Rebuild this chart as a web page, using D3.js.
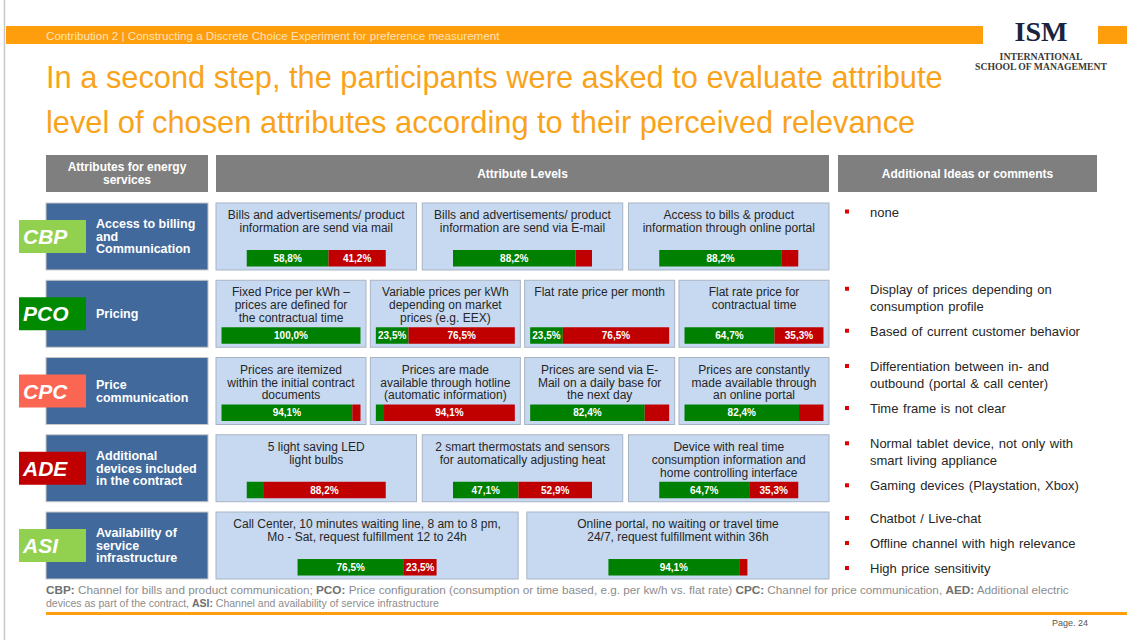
<!DOCTYPE html>
<html>
<head>
<meta charset="utf-8">
<script src="https://cdn.jsdelivr.net/npm/d3@7"></script>
<style>
    body { margin: 0; background: #fff; }
    svg { display: block; font-family: "Liberation Sans", Arial, sans-serif; }
</style>
</head>
<body>
<div id="chart"></div>
<script>
// Attribute codes and names
const codes = ["CBP", "PCO", "CPC", "ADE", "ASI"];
const attributeNames = [
    ["Access to billing", "and", "Communication"],
    ["Pricing"],
    ["Price", "communication"],
    ["Additional", "devices included", "in the contract"],
    ["Availability of", "service", "infrastructure"]
];

// Attribute levels (text lines per level)
const levelTexts = [
    [["Bills and advertisements/ product", "information are send via mail"],
     ["Bills and advertisements/ product", "information are send via E-mail"],
     ["Access to bills & product", "information through online portal"]],
    [["Fixed Price per kWh \u2013", "prices are defined for", "the contractual time"],
     ["Variable prices per kWh", "depending on market", "prices (e.g. EEX)"],
     ["Flat rate price per month"],
     ["Flat rate price for", "contractual time"]],
    [["Prices are itemized", "within the initial contract", "documents"],
     ["Prices are made", "available through hotline", "(automatic information)"],
     ["Prices are send via E-", "Mail on a daily base for", "the next day"],
     ["Prices are constantly", "made available through", "an online portal"]],
    [["5 light saving LED", "light bulbs"],
     ["2 smart thermostats and  sensors", "for automatically adjusting heat"],
     ["Device with real time", "consumption information and", "home controlling interface"]],
    [["Call Center, 10 minutes waiting line, 8 am to 8 pm,", "Mo - Sat, request fulfillment 12 to 24h"],
     ["Online portal, no waiting or travel time", "24/7, request fulfillment within 36h"]]
];

// Share of participants rating the level relevant (green) / not relevant (red), in %
const positiveShares = [
    [58.8, 88.2, 88.2],
    [100.0, 23.5, 23.5, 64.7],
    [94.1, 5.9, 82.4, 82.4],
    [11.8, 47.1, 64.7],
    [76.5, 94.1]
];
const negativeShares = [
    [41.2, 11.8, 11.8],
    [0.0, 76.5, 76.5, 35.3],
    [5.9, 94.1, 17.6, 17.6],
    [88.2, 52.9, 35.3],
    [23.5, 5.9]
];

// Additional ideas or comments (bullets, each with its lines)
const comments = [
    [["none"]],
    [["Display of prices depending on", "consumption profile"], ["Based of current customer behavior"]],
    [["Differentiation between in- and", "outbound (portal & call center)"], ["Time frame is not clear"]],
    [["Normal tablet device, not only with", "smart living appliance"], ["Gaming devices (Playstation, Xbox)"]],
    [["Chatbot / Live-chat"], ["Offline channel with high relevance"], ["High price sensitivity"]]
];

const headers = [["Attributes for energy", "services"], ["Attribute Levels"], ["Additional Ideas or comments"]];

const footnote = [
    [["CBP:", true], [" Channel for bills and product communication; ", false], ["PCO:", true],
     ["  Price configuration (consumption  or time based, e.g. per kw/h vs.  flat rate) ", false],
     ["CPC:", true], [" Channel for price communication, ", false], ["AED:", true], [" Additional electric", false]],
    [["devices as part of the contract, ", false], ["ASI:", true], [" Channel and availability  of service infrastructure", false]]
];

const codeColors = ["#92d050", "#008a00", "#fa6652", "#c00000", "#92d050"];
const orange = "#ff9e0d";
const green = "#008000";
const red = "#c00000";

function fitWidth(sel, target) {
    const w = sel.node().getComputedTextLength();
    const fs = parseFloat(sel.attr("font-size"));
    sel.attr("font-size", fs * target / w);
}

function drawSlide() {
    const W = 1127, H = 640;
    const svg = d3.select("#chart").append("svg")
        .attr("width", W).attr("height", H);

    // slide frame
    svg.append("line").attr("x1", 4.5).attr("x2", 4.5).attr("y1", 0).attr("y2", H)
        .attr("stroke", "#c8c8c8").attr("stroke-width", 1.5);

    // top band
    svg.append("rect").attr("x", 6).attr("y", 26).attr("width", 977).attr("height", 18).attr("fill", orange);
    svg.append("rect").attr("x", 1098).attr("y", 26).attr("width", 29).attr("height", 18).attr("fill", orange);
    const band = svg.append("text").attr("x", 46).attr("y", 39.5)
        .attr("font-size", 11).attr("fill", "#fde3b8")
        .text("Contribution 2 | Constructing a Discrete Choice Experiment for preference measurement");
    fitWidth(band, 454);

    // logo
    const ism = svg.append("text").attr("x", 1041).attr("y", 41).attr("text-anchor", "middle")
        .attr("font-family", "Liberation Serif, serif").attr("font-weight", "bold")
        .attr("font-size", 27).attr("fill", "#1a2440").text("ISM");
    fitWidth(ism, 53);
    const intl = svg.append("text").attr("x", 1041).attr("y", 60).attr("text-anchor", "middle")
        .attr("font-family", "Liberation Serif, serif").attr("font-weight", "bold")
        .attr("font-size", 8.5).attr("fill", "#3a3a3a").text("INTERNATIONAL");
    fitWidth(intl, 83);
    const school = svg.append("text").attr("x", 1041).attr("y", 70).attr("text-anchor", "middle")
        .attr("font-family", "Liberation Serif, serif").attr("font-weight", "bold")
        .attr("font-size", 8.5).attr("fill", "#3a3a3a").text("SCHOOL OF MANAGEMENT");
    fitWidth(school, 132);

    // title
    const t1 = svg.append("text").attr("x", 46).attr("y", 88).attr("font-size", 31).attr("fill", "#f9a31b")
        .text("In a second step, the participants were asked to evaluate attribute");
    fitWidth(t1, 897);
    svg.append("text").attr("x", 46).attr("y", 133).attr("font-size", t1.attr("font-size")).attr("fill", "#f9a31b")
        .text("level of chosen attributes according to their perceived relevance");

    // header row
    const headerX = [46, 216, 838];
    const headerW = [162, 613, 259];
    headers.forEach((lines, i) => {
        svg.append("rect").attr("x", headerX[i]).attr("y", 155).attr("width", headerW[i]).attr("height", 37)
            .attr("fill", "#7f7f7f");
        lines.forEach((ln, j) => {
            svg.append("text").attr("x", headerX[i] + headerW[i] / 2)
                .attr("y", 173.5 + (j - (lines.length - 1) / 2) * 13)
                .attr("dy", "0.35em").attr("text-anchor", "middle")
                .attr("font-size", 12).attr("font-weight", "bold").attr("fill", "#fff").text(ln);
        });
    });

    // row scale
    const yRow = d3.scaleBand().domain(codes).range([203, 579]).paddingInner(0.133);
    const barScale = d3.scaleLinear().domain([0, 100]).range([0, 139]);

    codes.forEach((code, r) => {
        const top = yRow(code);
        const h = yRow.bandwidth();
        const mid = top + h / 2;

        // attribute box
        svg.append("rect").attr("x", 46).attr("y", top).attr("width", 162).attr("height", h)
            .attr("fill", "#41699c").attr("stroke", "#c8c8c8");
        const names = attributeNames[r];
        names.forEach((ln, j) => {
            svg.append("text").attr("x", 96).attr("y", mid + (j - (names.length - 1) / 2) * 12.5)
                .attr("dy", "0.35em").attr("font-size", 12.5).attr("font-weight", "bold")
                .attr("fill", "#fff").text(ln);
        });

        // code tag
        svg.append("rect").attr("x", 19).attr("y", mid - 16.5).attr("width", 67).attr("height", 33)
            .attr("fill", codeColors[r]);
        svg.append("text").attr("x", 23).attr("y", mid).attr("dy", "0.36em")
            .attr("font-size", 21).attr("font-weight", "bold").attr("font-style", "italic")
            .attr("fill", "#fff").text(code);

        // level boxes
        const levels = levelTexts[r];
        const xBox = d3.scaleBand().domain(d3.range(levels.length)).range([216, 829]).paddingInner(0.028);
        levels.forEach((lines, k) => {
            const bx = xBox(k), bw = xBox.bandwidth();
            svg.append("rect").attr("x", bx).attr("y", top).attr("width", bw).attr("height", h)
                .attr("fill", "#c6d9f1").attr("stroke", "#a8b4c4");
            lines.forEach((ln, j) => {
                svg.append("text").attr("x", bx + bw / 2).attr("y", top + 12 + j * 12.8)
                    .attr("dy", "0.35em").attr("text-anchor", "middle")
                    .attr("font-size", 12).attr("fill", "#262626").text(ln);
            });

            // stacked bar
            const x0 = bx + (bw - barScale(100)) / 2;
            const by = top + 47;
            const bh = 16.5;
            const segs = [
                { v: positiveShares[r][k], start: 0, color: green },
                { v: negativeShares[r][k], start: positiveShares[r][k], color: red }
            ];
            segs.forEach(s => {
                if (s.v <= 0) return;
                svg.append("rect").attr("x", x0 + barScale(s.start)).attr("y", by)
                    .attr("width", barScale(s.v)).attr("height", bh).attr("fill", s.color);
            });
            segs.forEach(s => {
                if (s.v < 20) return;
                svg.append("text").attr("x", x0 + barScale(s.start + s.v / 2)).attr("y", by + bh / 2)
                    .attr("dy", "0.35em").attr("text-anchor", "middle")
                    .attr("font-size", 10).attr("font-weight", "bold").attr("fill", "#fff")
                    .text(d3.format(".1f")(s.v).replace(".", ",") + "%");
            });
        });

        // comments
        const lineCount = d3.sum(comments[r], b => b.length);
        const blockH = (lineCount - comments[r].length) * 17 + (comments[r].length - 1) * 25;
        let cy = Math.min(top + 9, mid - blockH / 2 - 2);
        comments[r].forEach(bullet => {
            svg.append("rect").attr("x", 845).attr("y", cy - 2.5).attr("width", 4).attr("height", 4)
                .attr("fill", "#e00000");
            bullet.forEach((ln, j) => {
                svg.append("text").attr("x", 870).attr("y", cy + j * 17).attr("dy", "0.35em")
                    .attr("font-size", 13).attr("fill", "#262626").attr("word-spacing", 1).text(ln);
            });
            cy += (bullet.length - 1) * 17 + 25;
        });
    });

    // footnote
    footnote.forEach((parts, i) => {
        const t = svg.append("text").attr("x", 46).attr("y", 594 + i * 13).attr("font-size", 10.5);
        parts.forEach(p => {
            t.append("tspan").attr("font-weight", p[1] ? "bold" : "normal")
                .attr("fill", p[1] ? "#6f6f6f" : "#8c8c8c").text(p[0]);
        });
        if (i === 0) fitWidth(t, 1024);
    });

    // bottom
    svg.append("rect").attr("x", 46).attr("y", 612).attr("width", W - 46).attr("height", 3).attr("fill", orange);
    svg.append("text").attr("x", 1088).attr("y", 626).attr("text-anchor", "end")
        .attr("font-size", 9).attr("fill", "#555").text("Page. 24");
}

drawSlide();
</script>
</body>
</html>
